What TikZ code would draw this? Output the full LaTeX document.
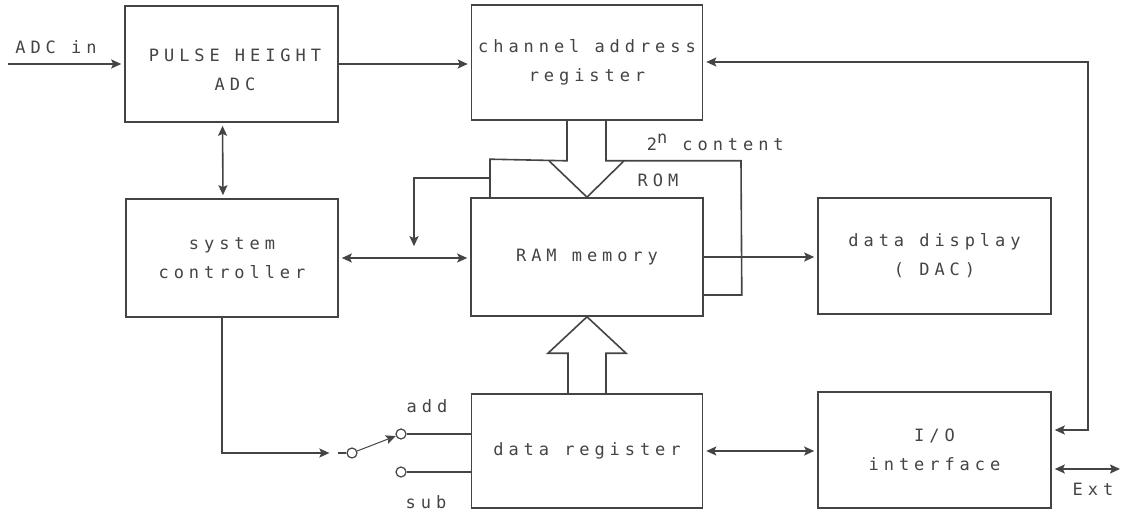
\documentclass[tikz,border=0pt]{standalone}
\usepackage{fontspec}
\newfontfamily\dotfont[LetterSpace=29]{DejaVu Sans Mono}
\usetikzlibrary{arrows.meta,calc}
\definecolor{ink}{HTML}{444444}
\begin{document}
\begin{tikzpicture}[x=1pt,y=-1pt, line width=1.6pt, draw=ink, text=ink,
  font=\dotfont\fontsize{17}{29}\selectfont,
  blk/.style={draw, minimum width=231pt, minimum height=116pt, inner sep=0pt, align=center},
  txt/.style={inner sep=0pt, align=center},
  tip/.style={-{Stealth[length=10pt,width=9pt,inset=2pt]}, shorten >=3pt},
  dtip/.style={{Stealth[length=10pt,width=9pt,inset=2pt]}-{Stealth[length=10pt,width=9pt,inset=2pt]}, shorten >=3pt, shorten <=3pt},
  term/.style={draw, circle, minimum size=10pt, inner sep=0pt, line width=1.2pt},
  lbl/.style={inner sep=0pt}]
\fill[white] (0,0) rectangle (1125,513);
\useasboundingbox (0,0) rectangle (1125,513);

% blocks
\node[blk, minimum width=213pt] (adc) at (231.5,64) {};
\node[txt] (adct) at (235,70) {PULSE HEIGHT\\ADC};
\node[blk, minimum height=115pt] (car) at (587,62.5) {channel address\\register};
\node[blk, minimum width=212pt, minimum height=118pt] (sys) at (232,258) {system\\controller};
\node[blk, minimum width=232pt, minimum height=118pt] (ram) at (587,257) {RAM memory};
\node[blk, minimum width=233pt] (dsp) at (934.5,256) {data display\\( DAC)};
\node[blk, minimum height=114pt] (dreg) at (587,451) {data register};
\node[blk, minimum width=233pt] (io) at (934.5,450) {I/O\\interface};

% input
\coordinate (in) at (8,64);
\draw[tip] (in) -- (adc.west);
\node[lbl] (adcin) at (56,47) {ADC in};

% ADC -> channel address register
\draw[tip] (adc.east) -- (car.west |- adc.east);

% ADC <-> system controller
\draw[dtip] ($(adc.south)+(-9,0)$) -- ($(sys.north)+(-9,0)$);

% system controller <-> RAM
\draw[dtip] (sys.east) -- (sys.east -| ram.west);

% RAM -> display
\draw[tip] (ram.east) -- (ram.east -| dsp.west);

% data register <-> I/O
\draw[dtip] (dreg.east) -- (dreg.east -| io.west);

% loop I/O <-> channel address register
\coordinate (rt) at (1088,62);
\coordinate (ioR) at ($(io.east)+(0,-20)$);
\draw[dtip] (ioR) -- (ioR -| rt) -- (rt) -- (rt -| car.east);

% Ext
\coordinate (ext) at (1123,469);
\draw[dtip] (io.east |- ext) -- (ext);
\node[lbl] (extl) at (1093,489) {Ext};

% ROM outline and wide arrow into RAM
\draw ($(ram.north)+(-97,0)$) -- ($(ram.north)+(-97,-38)$) -- ($(car.south)+(-20,40)$) -- ($(car.south)+(-20,0)$);
\draw ($(car.south)+(19,0)$) -- ($(car.south)+(19,40)$) -- ($(car.south)+(154,40)$) -- ($(ram.east)+(38,38)$) -- ($(ram.east)+(0,38)$);
\draw ($(car.south)+(-38,40)$) -- (ram.north) -- ($(car.south)+(37,40)$);
\draw[tip, shorten >=0pt] ($(ram.north)+(-97,-19)$) -- ($(ram.north)+(-173,-19)$) -- ($(ram.north)+(-173,49)$);
\node[lbl, anchor=west] (n2) at (646,142) {2\raisebox{7pt}{n} content};
\node[lbl] (rom) at (658,180) {ROM};

% wide arrow data register -> RAM
\draw ($(dreg.north)+(-19,0)$) -- ($(dreg.north)+(-19,-40)$) -- ($(dreg.north)+(-39,-40)$) -- (ram.south)
  -- ($(dreg.north)+(39,-40)$) -- ($(dreg.north)+(19,-40)$) -- ($(dreg.north)+(19,0)$);

% add/sub switch
\node[term] (sw) at (352,453) {};
\node[term] (add) at (401,434) {};
\node[term] (sub) at (401,472) {};
\coordinate (sysb) at ($(sys.south)+(-10,0)$);
\draw[tip, shorten >=17pt] (sysb) -- (sysb |- sw) -- (sw);
\draw ($(sw.west)+(-8,0)$) -- (sw.west);
\draw[tip, line width=1pt, shorten >=0pt] (sw) -- (add);
\draw (add) -- (add -| dreg.west);
\draw (sub) -- (sub -| dreg.west);
\node[lbl] (addl) at (427,406) {add};
\node[lbl] (subl) at (426,502) {sub};
\end{tikzpicture}
\end{document}
